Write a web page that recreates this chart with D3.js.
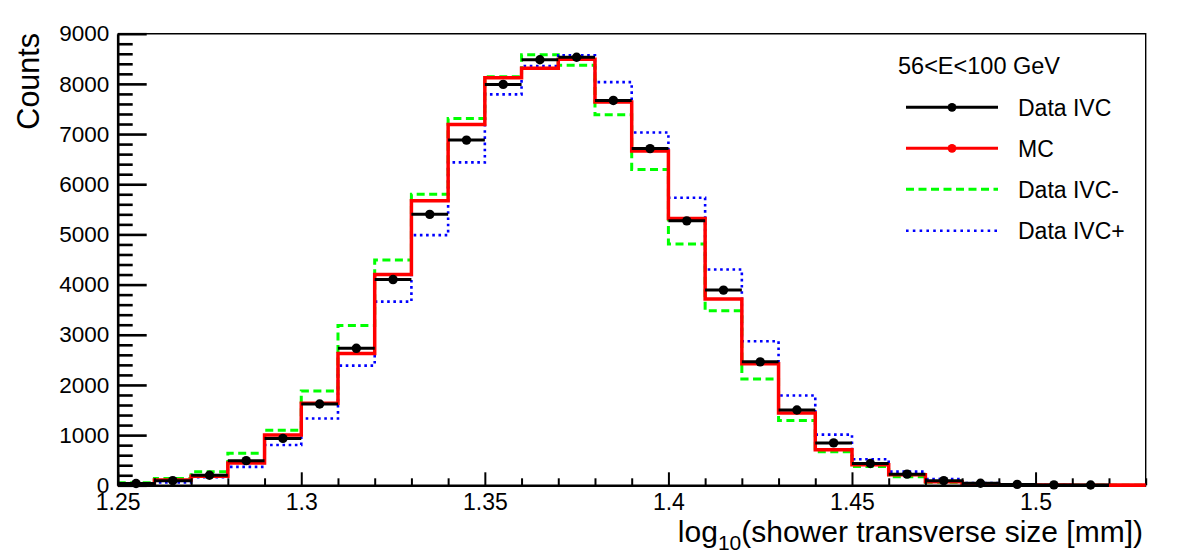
<!DOCTYPE html>
<html><head><meta charset="utf-8">
<script src="https://cdn.jsdelivr.net/npm/d3@7"></script>
<style>
body{margin:0;background:#fff}
svg{display:block}
text{font-family:"Liberation Sans",Arial,Helvetica,sans-serif;fill:#000}
</style>
</head><body>
<svg id="chart" width="1182" height="559"></svg>
<script>
// ---- data ----
const binLow = [1.25,1.26,1.27,1.28,1.29,1.30,1.31,1.32,1.33,1.34,1.35,1.36,1.37,1.38,1.39,
                1.40,1.41,1.42,1.43,1.44,1.45,1.46,1.47,1.48,1.49,1.50,1.51,1.52];
const binWidth = 0.01;
const dataIVC  = [35,92,200,491,935,1620,2730,4100,5400,6880,7990,8480,8530,7670,6710,5270,3890,2460,1500,845,435,222,92,40,18,8,5];
const mcValues = [10,106,180,445,1000,1636,2625,4200,5670,7190,8120,8310,8490,7640,6660,5315,3712,2420,1440,710,410,210,70,22,10,4,2,0];
const ivcMinus = [50,135,270,638,1095,1880,3185,4490,5800,7310,8140,8580,8370,7385,6295,4810,3480,2120,1290,670,375,172,60,25,8,3,1,0];
const ivcPlus  = [10,55,162,368,804,1330,2385,3660,4985,6435,7790,8355,8570,8035,7030,5730,4300,2870,1790,1010,519,272,126,45,16,6,2,0];
const yTicks = [0,1000,2000,3000,4000,5000,6000,7000,8000,9000];
const yTickLabels = ["0","1000","2000","3000","4000","5000","6000","7000","8000","9000"];
const xTicks = [1.25,1.30,1.35,1.40,1.45,1.50];
const xTickLabels = ["1.25","1.3","1.35","1.4","1.45","1.5"];
const xDomain = [1.25,1.53];
const yDomain = [0,9000];
const legendTitle = "56<E<100 GeV";
const legendLabels = ["Data IVC","MC","Data IVC-","Data IVC+"];
const yTitle = "Counts";

// ---- layout ----
const L=117.7, R=1145.7, T=33.7, B=485.3;
const svg = d3.select("#chart");
const x = d3.scaleLinear().domain(xDomain).range([L,R]);
const y = d3.scaleLinear().domain(yDomain).range([B,T]);

svg.append("rect").attr("width",1182).attr("height",559).attr("fill","#fff");

// frame (top & right)
svg.append("path").attr("d",`M${L},${T}H${R}V${B}`).attr("fill","none").attr("stroke","#000").attr("stroke-width",1.4);

// step histogram helper
function stepPts(vals){
  const pts = vals.map((v,i)=>[binLow[i], v]);
  pts.push([binLow[vals.length-1]+binWidth, vals[vals.length-1]]);
  return pts;
}
const stepLine = d3.line().x(d=>x(d[0])).y(d=>y(d[1])).curve(d3.curveStepAfter);

svg.append("path").attr("d",stepLine(stepPts(ivcMinus))).attr("fill","none")
  .attr("stroke","#00ff00").attr("stroke-width",3).attr("stroke-dasharray","8,4.5");
svg.append("path").attr("d",stepLine(stepPts(ivcPlus))).attr("fill","none")
  .attr("stroke","#0000ff").attr("stroke-width",2.6).attr("stroke-dasharray","2.6,3.6");
svg.append("path").attr("d",stepLine(stepPts(mcValues))).attr("fill","none")
  .attr("stroke","#ff0000").attr("stroke-width",3.5);

// data points with horizontal bin bars
const gData = svg.append("g");
gData.selectAll("line").data(dataIVC).join("line")
  .attr("x1",(d,i)=>x(binLow[i])).attr("x2",(d,i)=>x(binLow[i]+binWidth))
  .attr("y1",d=>y(d)).attr("y2",d=>y(d))
  .attr("stroke","#000").attr("stroke-width",3);
gData.selectAll("circle").data(dataIVC).join("circle")
  .attr("cx",(d,i)=>x(binLow[i]+binWidth/2)).attr("cy",d=>y(d)).attr("r",4.7).attr("fill","#000");

// y axis
const yMinor = d3.range(0,9001,200).filter(v=>v%1000!==0);
const gyMinor = svg.append("g").attr("transform",`translate(${L},0)`)
  .call(d3.axisLeft(y).tickValues(yMinor).tickSize(-15).tickSizeOuter(0).tickFormat(""));
gyMinor.select(".domain").remove();
gyMinor.selectAll(".tick line").attr("stroke","#000").attr("stroke-width",2.6);
const gy = svg.append("g").attr("transform",`translate(${L},0)`)
  .call(d3.axisLeft(y).tickValues(yTicks).tickSize(-29).tickSizeOuter(0).tickPadding(8.5)
        .tickFormat((d,i)=>yTickLabels[i]));
gy.select(".domain").attr("stroke","#000").attr("stroke-width",2.6);
gy.selectAll(".tick line").attr("stroke","#000").attr("stroke-width",2.6);
gy.selectAll(".tick text").attr("font-size",22.5).attr("fill","#000")
  .attr("font-family","'Liberation Sans',Arial,sans-serif");

// x axis
const xMinor = d3.range(125,154).map(v=>v/100).filter(v=>Math.round(v*100)%5!==0);
const gxMinor = svg.append("g").attr("transform",`translate(0,${B})`)
  .call(d3.axisBottom(x).tickValues(xMinor).tickSize(-7).tickSizeOuter(0).tickFormat(""));
gxMinor.select(".domain").remove();
gxMinor.selectAll(".tick line").attr("stroke","#000").attr("stroke-width",2);
const gx = svg.append("g").attr("transform",`translate(0,${B})`)
  .call(d3.axisBottom(x).tickValues(xTicks).tickSize(-13).tickSizeOuter(0).tickPadding(8.5)
        .tickFormat((d,i)=>xTickLabels[i]));
gx.select(".domain").attr("stroke","#000").attr("stroke-width",2.6);
gx.selectAll(".tick line").attr("stroke","#000").attr("stroke-width",2);
gx.selectAll(".tick text").attr("font-size",23).attr("fill","#000")
  .attr("font-family","'Liberation Sans',Arial,sans-serif");

// red last bin over axis (drawn again on top)
svg.append("path").attr("d",stepLine(stepPts(mcValues).slice(-2))).attr("fill","none")
  .attr("stroke","#ff0000").attr("stroke-width",3.5);

// axis titles
svg.append("text").attr("transform","translate(38.5,33) rotate(-90)")
  .attr("text-anchor","end").attr("font-size",30.5).text(yTitle);
const xt = svg.append("text").attr("x",1143).attr("y",542).attr("text-anchor","end").attr("font-size",30);
xt.append("tspan").text("log");
xt.append("tspan").attr("font-size",21).attr("dy",8).text("10");
xt.append("tspan").attr("dy",-8).text("(shower transverse size [mm])");

// legend
const lg = svg.append("g");
lg.append("text").attr("x",898).attr("y",74).attr("font-size",23.5).text(legendTitle);
const rows = [
  {label:legendLabels[0], color:"#000", dash:null, w:3, marker:true},
  {label:legendLabels[1], color:"#ff0000", dash:null, w:3, marker:true},
  {label:legendLabels[2], color:"#00ff00", dash:"8,4.5", w:3, marker:false},
  {label:legendLabels[3], color:"#0000ff", dash:"2.6,4.2", w:2.6, marker:false}
];
const rowY = [107.3,148.3,189.3,230.7];
rows.forEach((r,i)=>{
  const yy = rowY[i];
  lg.append("line").attr("x1",906).attr("x2",998).attr("y1",yy).attr("y2",yy)
    .attr("stroke",r.color).attr("stroke-width",r.w).attr("stroke-dasharray",r.dash);
  if(r.marker) lg.append("circle").attr("cx",952).attr("cy",yy).attr("r",4.4).attr("fill",r.color);
  lg.append("text").attr("x",1018).attr("y",yy+8.5).attr("font-size",23).text(r.label);
});
</script>
</body></html>
